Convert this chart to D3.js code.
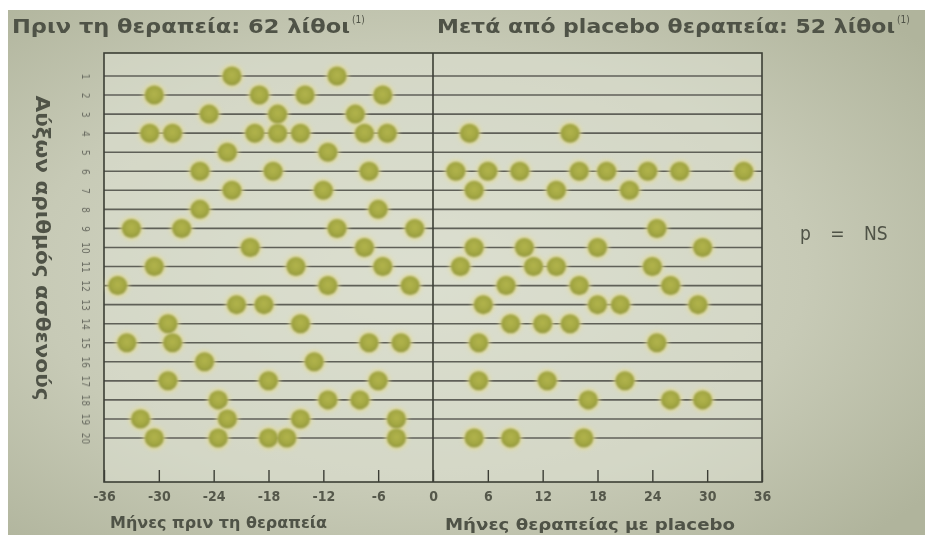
<!DOCTYPE html>
<html><head><meta charset="utf-8">
<script src="https://cdn.jsdelivr.net/npm/d3@7"></script>
<style>
html,body{margin:0;padding:0;background:#fff;}
svg{display:block;}
text{font-family:"Liberation Sans Narrow","DejaVu Sans Condensed","DejaVu Sans",sans-serif;}
</style></head>
<body>
<svg id="chart" width="925" height="535"></svg>
<script>
// ---- data ----
const patients = d3.range(1, 21);
const xTicks = [-36, -30, -24, -18, -12, -6, 0, 6, 12, 18, 24, 30, 36];
const titleBefore = "Πριν τη θεραπεία: 62 λίθοι";
const titleAfter = "Μετά από placebo θεραπεία: 52 λίθοι";
const xLabelBefore = "Μήνες πριν τη θεραπεία";
const xLabelAfter = "Μήνες θεραπείας με placebo";
const yLabel = "Αύξων αριθμός ασθενούς";
const pText = "p = NS";
// months before treatment, one list per patient (1..20)
const beforeMonths = [
  [-22, -10.5],
  [-30.5, -19, -14, -5.5],
  [-24.5, -17, -8.5],
  [-31, -28.5, -19.5, -17, -14.5, -7.5, -5],
  [-22.5, -11.5],
  [-25.5, -17.5, -7],
  [-22, -12],
  [-25.5, -6],
  [-33, -27.5, -10.5, -2],
  [-20, -7.5],
  [-30.5, -15, -5.5],
  [-34.5, -11.5, -2.5],
  [-21.5, -18.5],
  [-29, -14.5],
  [-33.5, -28.5, -7, -3.5],
  [-25, -13],
  [-29, -18, -6],
  [-23.5, -11.5, -8],
  [-32, -22.5, -14.5, -4],
  [-30.5, -23.5, -18, -16, -4]
];
// months on placebo, one list per patient (1..20)
const placeboMonths = [
  [], [], [],
  [4, 15],
  [],
  [2.5, 6, 9.5, 16, 19, 23.5, 27, 34],
  [4.5, 13.5, 21.5],
  [],
  [24.5],
  [4.5, 10, 18, 29.5],
  [3, 11, 13.5, 24],
  [8, 16, 26],
  [5.5, 18, 20.5, 29],
  [8.5, 12, 15],
  [5, 24.5],
  [],
  [5, 12.5, 21],
  [17, 26, 29.5],
  [],
  [4.5, 8.5, 16.5]
];

// ---- drawing ----
const svg = d3.select("#chart");
const defs = svg.append("defs");

const bg = defs.append("radialGradient").attr("id", "bgGrad")
  .attr("cx", "45%").attr("cy", "50%").attr("r", "70%");
bg.append("stop").attr("offset", "0%").attr("stop-color", "#d8dbcb");
bg.append("stop").attr("offset", "60%").attr("stop-color", "#c7cab6");
bg.append("stop").attr("offset", "100%").attr("stop-color", "#b0b49c");

const dotG = defs.append("radialGradient").attr("id", "dotGrad")
  .attr("cx", "50%").attr("cy", "45%").attr("r", "55%");
dotG.append("stop").attr("offset", "0%").attr("stop-color", "#b2b44c");
dotG.append("stop").attr("offset", "65%").attr("stop-color", "#a3a742");
dotG.append("stop").attr("offset", "100%").attr("stop-color", "#8f9440");

const soft = defs.append("filter").attr("id", "soft").attr("x", "-50%").attr("y", "-50%").attr("width", "200%").attr("height", "200%");
soft.append("feGaussianBlur").attr("stdDeviation", 0.8);
const halo = defs.append("filter").attr("id", "halo").attr("x", "-50%").attr("y", "-50%").attr("width", "200%").attr("height", "200%");
halo.append("feGaussianBlur").attr("stdDeviation", 2);
const txtBlur = defs.append("filter").attr("id", "txtBlur");
txtBlur.append("feGaussianBlur").attr("stdDeviation", 0.6);

svg.append("rect").attr("x", 8).attr("y", 10).attr("width", 917).attr("height", 525)
  .attr("fill", "url(#bgGrad)");

const x = d3.scaleLinear().domain([-36, 36]).range([104, 762]);
const y = d3.scaleLinear().domain([1, 20]).range([76, 438]);
const topY = 53, bottomY = 482;

// plot area light fill
svg.append("rect").attr("x", x(-36)).attr("y", topY).attr("width", x(36) - x(-36)).attr("height", bottomY - topY)
  .attr("fill", "#dfe1d4").attr("opacity", 0.55);

const gLines = svg.append("g").attr("filter", "url(#txtBlur)");
// row lines
gLines.selectAll("line.row").data(patients).join("line")
  .attr("class", "row")
  .attr("x1", x(-36)).attr("x2", x(36))
  .attr("y1", d => y(d)).attr("y2", d => y(d))
  .attr("stroke", "#5f6158").attr("stroke-width", 1.6);
// frame
gLines.append("rect").attr("x", x(-36)).attr("y", topY).attr("width", x(36) - x(-36)).attr("height", bottomY - topY)
  .attr("fill", "none").attr("stroke", "#3c3e36").attr("stroke-width", 1.6);
gLines.append("line").attr("x1", x(0)).attr("x2", x(0)).attr("y1", topY).attr("y2", bottomY)
  .attr("stroke", "#3c3e36").attr("stroke-width", 1.6);

// x axis
const xAxis = d3.axisBottom(x).tickValues(xTicks).tickSizeInner(-12).tickSizeOuter(0).tickPadding(9)
  .tickFormat(d => String(d));
const gx = svg.append("g").attr("transform", `translate(0,${bottomY})`).call(xAxis);
gx.select(".domain").remove();
gx.selectAll(".tick line").attr("stroke", "#3c3e36").attr("stroke-width", 1.4);
gx.selectAll(".tick text").attr("fill", "#55584b").attr("font-size", 14).attr("font-weight", "bold")
  .attr("filter", "url(#txtBlur)");

// row labels (rotated)
const yAxis = d3.axisLeft(y).tickValues(patients).tickSize(0).tickPadding(0);
const gy = svg.append("g").attr("transform", "translate(86,0)").call(yAxis);
gy.select(".domain").remove();
gy.selectAll(".tick text")
  .attr("x", 0).attr("dy", 0)
  .attr("text-anchor", "middle").attr("dominant-baseline", "central")
  .attr("transform", "rotate(90)")
  .attr("fill", "#6a6c62").attr("font-size", 10).attr("filter", "url(#txtBlur)");

// dots
function drawDots(data, cls) {
  const pts = [];
  data.forEach((arr, i) => arr.forEach(v => pts.push({ row: patients[i], v })));
  const g = svg.append("g").attr("class", cls);
  g.selectAll("circle.h").data(pts).join("circle").attr("class", "h")
    .attr("cx", d => x(d.v)).attr("cy", d => y(d.row)).attr("r", 11.5)
    .attr("fill", "#e4dc94").attr("opacity", 0.75).attr("filter", "url(#halo)");
  g.selectAll("circle.d").data(pts).join("circle").attr("class", "d")
    .attr("cx", d => x(d.v)).attr("cy", d => y(d.row)).attr("r", 9.5)
    .attr("fill", "url(#dotGrad)").attr("filter", "url(#soft)");
}
drawDots(beforeMonths, "before");
drawDots(placeboMonths, "placebo");

// titles
const tcol = "#4f5246";
svg.append("text").attr("x", 12).attr("y", 33).attr("font-size", 20).attr("font-weight", "bold").attr("fill", tcol)
  .attr("filter", "url(#txtBlur)").attr("textLength", 338).attr("lengthAdjust", "spacingAndGlyphs").text(titleBefore);
svg.append("text").attr("x", 352).attr("y", 23).attr("font-size", 10).attr("fill", tcol)
  .attr("filter", "url(#txtBlur)").text("(1)");
svg.append("text").attr("x", 437).attr("y", 33).attr("font-size", 20).attr("font-weight", "bold").attr("fill", tcol)
  .attr("filter", "url(#txtBlur)").attr("textLength", 458).attr("lengthAdjust", "spacingAndGlyphs").text(titleAfter);
svg.append("text").attr("x", 897).attr("y", 23).attr("font-size", 10).attr("fill", tcol)
  .attr("filter", "url(#txtBlur)").text("(1)");

// axis titles
svg.append("text").attr("x", 110).attr("y", 528).attr("font-size", 15).attr("font-weight", "bold").attr("fill", tcol)
  .attr("filter", "url(#txtBlur)").attr("textLength", 217).attr("lengthAdjust", "spacingAndGlyphs").text(xLabelBefore);
svg.append("text").attr("x", 445).attr("y", 530).attr("font-size", 15).attr("font-weight", "bold").attr("fill", tcol)
  .attr("filter", "url(#txtBlur)").attr("textLength", 290).attr("lengthAdjust", "spacingAndGlyphs").text(xLabelAfter);
svg.append("text").attr("transform", "translate(36,248) rotate(90)")
  .attr("text-anchor", "middle").attr("font-size", 19).attr("font-weight", "bold").attr("fill", tcol)
  .attr("filter", "url(#txtBlur)").attr("textLength", 305).attr("lengthAdjust", "spacingAndGlyphs").text(yLabel);

// p = NS
svg.append("text").attr("x", 800).attr("y", 240).attr("font-size", 19).attr("fill", tcol)
  .attr("word-spacing", 14)
  .attr("filter", "url(#txtBlur)").text(pText);
</script>
</body></html>
